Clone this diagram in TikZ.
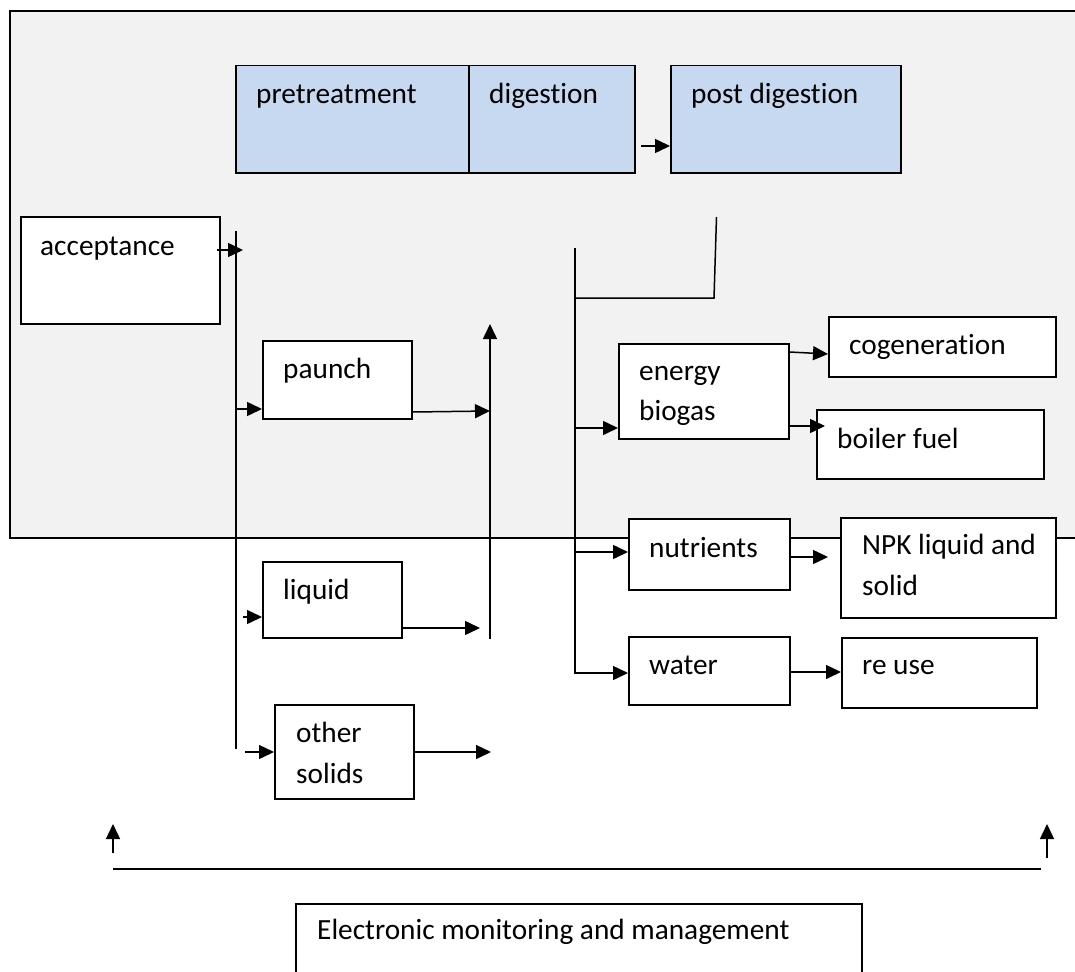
\documentclass[tikz,border=0pt]{standalone}
\usepackage{fontspec}
\setmainfont{Carlito}[Ligatures=NoCommon]
\usetikzlibrary{arrows.meta,calc}
\definecolor{grayF}{HTML}{F2F2F2}
\definecolor{blueF}{HTML}{C6D9F1}
\begin{document}
\begin{tikzpicture}[x=1pt,y=-1pt,
  box/.style={draw,line width=1.5pt,fill=white,inner sep=0pt,anchor=north west},
  bluebox/.style={box,fill=blueF},
  txt/.style={anchor=base west,inner sep=0pt,font=\fontsize{29.3}{41}\selectfont},
  ln/.style={line width=1.5pt},
  arr/.style={ln,-{Triangle[length=15pt,width=14pt]}}]
\useasboundingbox (0,0) rectangle (1075,971);
\clip (0,0) rectangle (1075,971);
% background panel
\draw[ln,fill=grayF] (10,11) rectangle (1095,538);
% boxes
\node[bluebox,minimum width=233pt,minimum height=107pt] (pre) at (235,65) {};
\node[bluebox,minimum width=166pt,minimum height=107pt] (dig) at (468,65) {};
\node[bluebox,minimum width=230pt,minimum height=107pt] (post) at (670,65) {};
\node[box,minimum width=199pt,minimum height=107pt] (acc) at (20,216) {};
\node[box,minimum width=149pt,minimum height=78pt] (paunch) at (262,340) {};
\node[box,minimum width=139pt,minimum height=76pt] (liquid) at (262,561) {};
\node[box,minimum width=139pt,minimum height=94pt] (other) at (274,704) {};
\node[box,minimum width=170pt,minimum height=95pt] (energy) at (618,343) {};
\node[box,minimum width=227pt,minimum height=60pt] (cogen) at (828,316) {};
\node[box,minimum width=227pt,minimum height=69pt] (boiler) at (816,409) {};
\node[box,minimum width=161pt,minimum height=71pt] (nutr) at (628,518) {};
\node[box,minimum width=215pt,minimum height=100pt] (npk) at (840,517) {};
\node[box,minimum width=161pt,minimum height=68pt] (water) at (628,636) {};
\node[box,minimum width=195pt,minimum height=70pt] (reuse) at (841,637) {};
\node[box,minimum width=566pt,minimum height=100pt] (emm) at (295,903) {};
% texts
\node[txt] (tpre) at (256,103) {pretreatment};
\node[txt] (tdig) at (489,103) {digestion};
\node[txt] (tpost) at (691,103) {post digestion};
\node[txt] (tacc) at (40,255) {acceptance};
\node[txt] (tpaunch) at (283,378) {paunch};
\node[txt] (tliquid) at (283,599) {liquid};
\node[txt] (tother1) at (296,742) {other};
\node[txt] (tother2) at (296,783) {solids};
\node[txt] (tenergy1) at (639,380) {energy};
\node[txt] (tenergy2) at (639,420) {biogas};
\node[txt] (tcogen) at (849,354) {cogeneration};
\node[txt] (tboiler) at (837,448) {boiler fuel};
\node[txt] (tnutr) at (649,557) {nutrients};
\node[txt] (tnpk1) at (862,554) {NPK liquid and};
\node[txt] (tnpk2) at (862,595) {solid};
\node[txt] (twater) at (649,674) {water};
\node[txt] (treuse) at (862,674) {re use};
\node[txt] (temm) at (317,939) {Electronic monitoring and management};
% bus coordinates
\coordinate (busLtop) at (236,231);
\coordinate (busLbot) at (236,749);
\coordinate (bus2top) at (490,324);
\coordinate (bus2bot) at (490,639);
\coordinate (busRtop) at (575,248);
\coordinate (busRbot) at (575,673);
\coordinate (dropTop) at (716.5,217);
\coordinate (dropBot) at (714,298);
\coordinate (upL) at (113,824);
\coordinate (upR) at (1047,824);
% connectors
\draw[arr] (641,146) -- (post.west |- 0,146);
\draw[ln] (busLtop) -- (busLbot);
\draw[arr] ($(acc.east |- 0,250)+(-4,0)$) -- (243,250);
\draw[arr] (busLtop |- 0,409) -- (paunch.west |- 0,409);
\draw[arr] (paunch.east |- 0,412) -- (bus2top |- 0,411);
\draw[arr] (bus2bot) -- (bus2top);
\draw[arr] (243,617) -- (liquid.west |- 0,617);
\draw[arr] (liquid.east |- 0,628) -- (480,628);
\draw[arr] (245,752) -- (other.west |- 0,752);
\draw[arr] (other.east |- 0,752) -- (491,752);
\draw[ln] (dropTop) -- (dropBot) -- (busRtop |- dropBot);
\draw[arr] (busRtop) -- (busRbot) -- (water.west |- busRbot);
\draw[arr] (busRtop |- 0,428) -- (energy.west |- 0,428);
\draw[arr] (busRtop |- 0,552) -- (nutr.west |- 0,552);
\draw[arr] (energy.east |- 0,352) -- (cogen.west |- 0,354);
\draw[arr] ($(energy.east |- 0,426)+(-2,0)$) -- (825,426);
\draw[arr] (nutr.east |- 0,557) -- (828,557);
\draw[arr] (water.east |- 0,672) -- (reuse.west |- 0,672);
\draw[arr] (113,853) -- (upL);
\draw[arr] (1047,858) -- (upR);
\draw[ln] (113,869) -- (1041,869);
\end{tikzpicture}
\end{document}
